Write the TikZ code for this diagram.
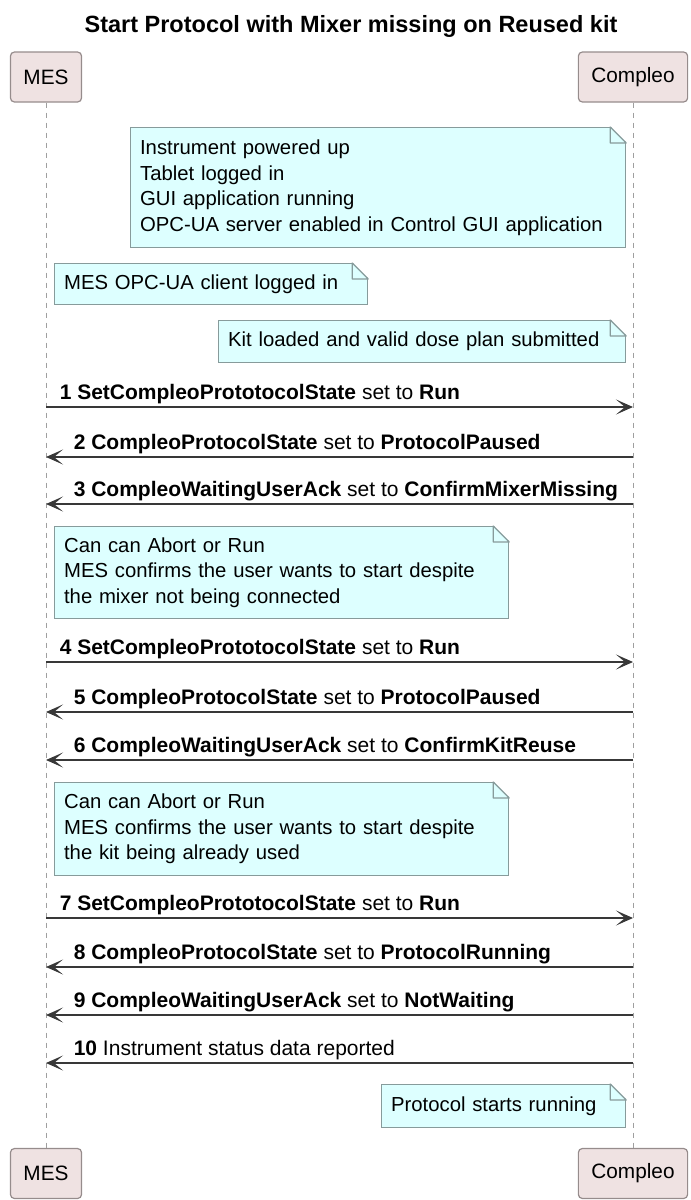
\documentclass[tikz,border=0pt]{standalone}
\usepackage{fontspec}
\setmainfont{Liberation Sans}
\usetikzlibrary{positioning,arrows.meta}
\definecolor{partfill}{RGB}{239,226,226}
\definecolor{partdraw}{RGB}{150,140,140}
\definecolor{notefill}{RGB}{221,255,255}
\definecolor{notedraw}{RGB}{135,155,155}
\definecolor{msgcol}{RGB}{56,56,56}
\tikzset{partbox/.style={draw=partdraw, fill=partfill, rounded corners=4pt, line width=1.2pt, minimum height=50pt, inner xsep=13pt, font=\fontsize{20.8}{25}\selectfont}}
\tikzset{notebox/.style={draw=notedraw, fill=notefill, line width=1.2pt, anchor=north west, inner xsep=9.5pt, inner ysep=0pt, align=left, font=\fontsize{20.3}{25.5}\selectfont}}
\tikzset{msg/.style={draw=msgcol, line width=1.6pt, -{Stealth[length=17pt,width=15pt,inset=9pt]}}}
\tikzset{lifeline/.style={draw=gray!75, line width=1pt, dash pattern=on 5pt off 5pt}}
\tikzset{msglbl/.style={anchor=base west, inner sep=0pt, font=\fontsize{21}{25}\selectfont}}
\newcommand\notefold[1]{
	\fill[white] ([xshift=-16pt,yshift=1pt]#1.north east) -- ([xshift=1pt,yshift=1pt]#1.north east) -- ([xshift=1pt,yshift=-16pt]#1.north east) -- cycle;
	\draw[notedraw, line width=1.2pt, line join=round] ([xshift=-16pt]#1.north east) -- ([yshift=-16pt]#1.north east) -- ([xshift=-16pt,yshift=-16pt]#1.north east) -- cycle;
	}
\begin{document}
\begin{tikzpicture}[x=1pt, y=-1pt]
	\useasboundingbox (0,0) rectangle (691,1200);
	\node[font=\fontsize{23.5}{28}\selectfont\bfseries] (title) at (351,26) {Start Protocol with Mixer missing on Reused kit};

	\node[partbox] (mesT) at (46,77) {MES};
	\node[partbox] (cmpT) at (633,77) {Compleo};
	\node[partbox] (mesB) at (46,1173.5) {MES};
	\node[partbox] (cmpB) at (633,1173.5) {Compleo};
	\draw[lifeline] (mesT) -- (mesB);
	\draw[lifeline] (cmpT) -- (cmpB);

	\node[notebox, text width=476pt, minimum height=120pt] (n1) at (130,127)
		{Instrument powered up\\Tablet logged in\\GUI application running\\OPC-UA server enabled in Control GUI application};
	\node[notebox, text width=294pt, minimum height=41pt] (n2) at (54,263) {MES OPC-UA client logged in};
	\node[notebox, text width=388pt, minimum height=42pt] (n3) at (218,320) {Kit loaded and valid dose plan submitted};
	\node[notebox, text width=435pt, minimum height=92pt] (n4) at (54,526)
		{Can can Abort or Run\\MES confirms the user wants to start despite\\the mixer not being connected};
	\node[notebox, text width=435pt, minimum height=93pt] (n5) at (54,782)
		{Can can Abort or Run\\MES confirms the user wants to start despite\\the kit being already used};
	\node[notebox, text width=225pt, minimum height=43pt] (n6) at (381,1084) {Protocol starts running};
	\foreach \n in {n1,n2,n3,n4,n5,n6} {\notefold{\n}}

	\foreach \i/\y in {1/407,2/457,3/504,4/662,5/712,6/760,7/918,8/967,9/1015,10/1063} {
		\coordinate (mes\i) at (46,\y);
		\coordinate (cmp\i) at (633,\y);
	}
	\draw[msg] (mes1) -- node[msglbl, pos=0, xshift=13pt, yshift=8pt] {{\bfseries 1 SetCompleoPrototocolState} set to {\bfseries Run}} (cmp1);
	\draw[msg] (cmp2) -- node[msglbl, pos=1, xshift=27pt, yshift=8pt] {{\bfseries 2 CompleoProtocolState} set to {\bfseries ProtocolPaused}} (mes2);
	\draw[msg] (cmp3) -- node[msglbl, pos=1, xshift=27pt, yshift=8pt] {{\bfseries 3 CompleoWaitingUserAck} set to {\bfseries ConfirmMixerMissing}} (mes3);
	\draw[msg] (mes4) -- node[msglbl, pos=0, xshift=13pt, yshift=8pt] {{\bfseries 4 SetCompleoPrototocolState} set to {\bfseries Run}} (cmp4);
	\draw[msg] (cmp5) -- node[msglbl, pos=1, xshift=27pt, yshift=8pt] {{\bfseries 5 CompleoProtocolState} set to {\bfseries ProtocolPaused}} (mes5);
	\draw[msg] (cmp6) -- node[msglbl, pos=1, xshift=27pt, yshift=8pt] {{\bfseries 6 CompleoWaitingUserAck} set to {\bfseries ConfirmKitReuse}} (mes6);
	\draw[msg] (mes7) -- node[msglbl, pos=0, xshift=13pt, yshift=8pt] {{\bfseries 7 SetCompleoPrototocolState} set to {\bfseries Run}} (cmp7);
	\draw[msg] (cmp8) -- node[msglbl, pos=1, xshift=27pt, yshift=8pt] {{\bfseries 8 CompleoProtocolState} set to {\bfseries ProtocolRunning}} (mes8);
	\draw[msg] (cmp9) -- node[msglbl, pos=1, xshift=27pt, yshift=8pt] {{\bfseries 9 CompleoWaitingUserAck} set to {\bfseries NotWaiting}} (mes9);
	\draw[msg] (cmp10) -- node[msglbl, pos=1, xshift=27pt, yshift=8pt] {{\bfseries 10} Instrument status data reported} (mes10);
\end{tikzpicture}
\end{document}
